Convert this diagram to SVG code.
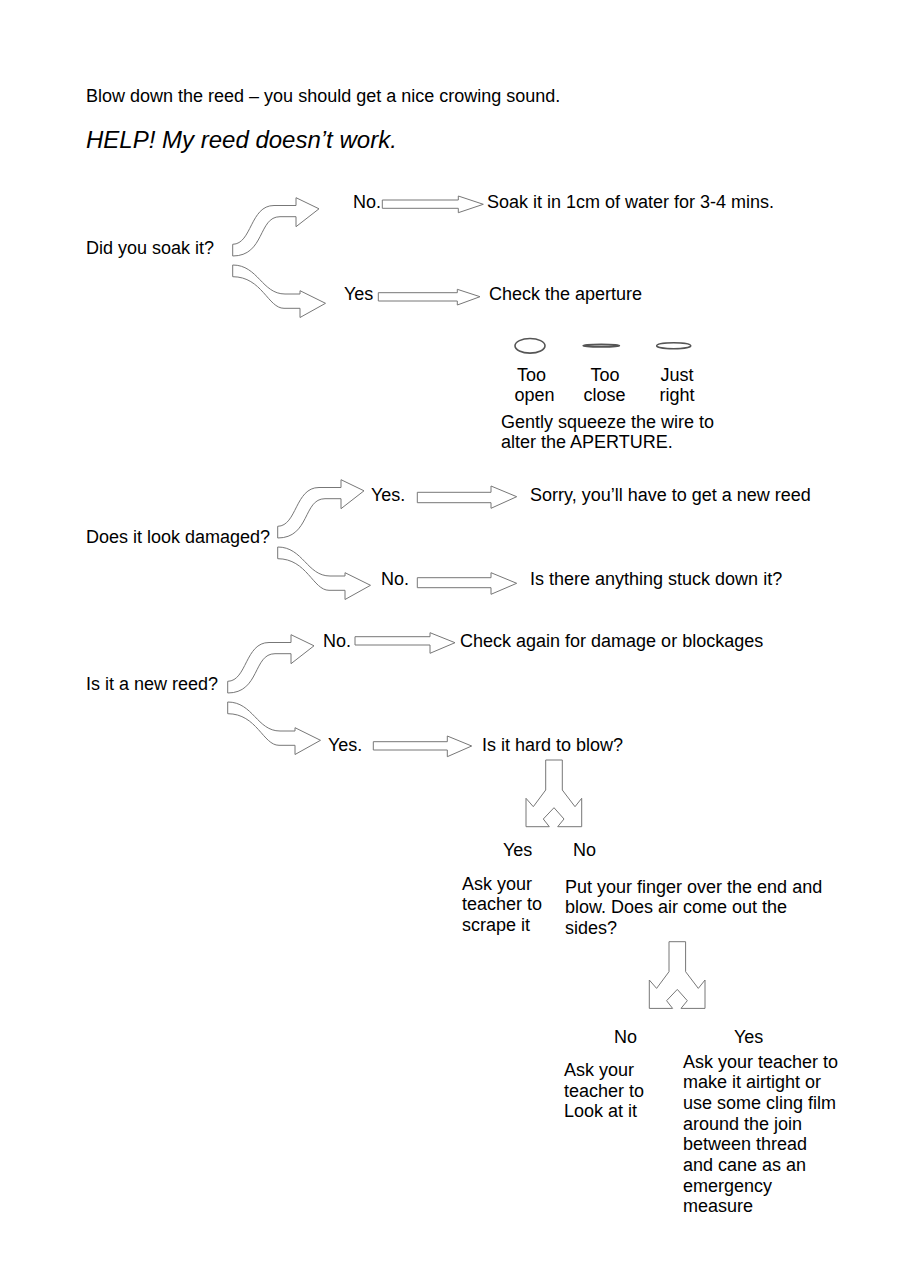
<svg xmlns="http://www.w3.org/2000/svg" width="900" height="1272" viewBox="0 0 900 1272">
<style>
text{font-family:"Liberation Sans",Arial,sans-serif;font-size:18px;fill:#000}
.title{font-size:24px;font-style:italic}
.arr{fill:#fff;stroke:#777;stroke-width:1;stroke-linejoin:miter}
.ap{fill:none;stroke:#555}
</style>
<defs>
<path id="cu" d="M232.7,244.3 C252,244 250,205.5 274,205.5 L296,205.5 L296,197.7 L319,208.8 L296,226.7 L296,216.7 L280,216.7 C258,216.7 265,256 232.7,256 Z"/>
<path id="cl" d="M232.7,265 C258,265 262,294 285,294 L300,294 L300,290.7 L325.5,303.3 L300,317.5 L300,308.3 L284,308.3 C268,308.3 262,276.7 232.7,276.7 Z"/>
<path id="split" d="M545.7,760 L545.7,790 L533.3,806.7 L526,798.3 L526,826.7 L549.3,826.7 L543.3,819 L554,807.7 L564,819 L557.7,826.7 L581.7,826.7 L581.7,798.3 L575,806.7 L562.3,790 L562.3,760 Z"/>
</defs>
<g id="intro">
<text x="86" y="102">Blow down the reed – you should get a nice crowing sound.</text>
<text class="title" x="86" y="148">HELP! My reed doesn’t work.</text>
</g>
<g id="connectors">
<use href="#cu" class="arr"/>
<use href="#cl" class="arr"/>
<use href="#cu" class="arr" transform="translate(45,282)"/>
<use href="#cl" class="arr" transform="translate(45,282)"/>
<use href="#cu" class="arr" transform="translate(-5,437)"/>
<use href="#cl" class="arr" transform="translate(-5,437)"/>
<polygon class="arr" points="382.3,200 458.3,200 458.3,196 483.3,204.3 458.3,212.7 458.3,208.3 382.3,208.3"/>
<polygon class="arr" points="378.3,292.7 457.3,292.7 457.3,289.3 480,296.7 457.3,305 457.3,301 378.3,301"/>
<polygon class="arr" points="417.3,492.3 491,492.3 491,486 516.7,496.7 491,508.3 491,502.7 417.3,502.7"/>
<polygon class="arr" points="417.3,577.7 491,577.7 491,572.7 516.7,583.3 491,594.3 491,587.7 417.3,587.7"/>
<polygon class="arr" points="355,636.7 430,636.7 430,632.7 455,642.7 430,653.3 430,645 355,645"/>
<polygon class="arr" points="373.3,741.7 447.3,741.7 447.3,736 471.7,746 447.3,756.7 447.3,750 373.3,750"/>
<use href="#split" class="arr"/>
<use href="#split" class="arr" transform="translate(123.3,181.7)"/>
</g>
<g id="q-soak">
<text x="86" y="254">Did you soak it?</text>
</g>
<g id="soak-no">
<text x="353" y="208">No.</text>
<text x="487" y="208">Soak it in 1cm of water for 3-4 mins.</text>
</g>
<g id="soak-yes">
<text x="344" y="300">Yes</text>
<text x="489" y="300">Check the aperture</text>
</g>
<g id="aperture">
<ellipse class="ap" cx="530" cy="345.8" rx="15" ry="7.3" stroke-width="1.6"/>
<ellipse class="ap" cx="601.3" cy="345.7" rx="18" ry="1.2" stroke-width="1.8"/>
<ellipse class="ap" cx="673.7" cy="345.7" rx="17" ry="3" stroke-width="1.6"/>
<text x="517" y="381">Too</text>
<text x="514.5" y="401">open</text>
<text x="590.5" y="381">Too</text>
<text x="583.5" y="401">close</text>
<text x="660.5" y="381">Just</text>
<text x="659.5" y="401">right</text>
<text x="501" y="428">Gently squeeze the wire to</text>
<text x="501" y="448">alter the APERTURE.</text>
</g>
<g id="q-damaged">
<text x="86" y="543">Does it look damaged?</text>
</g>
<g id="damaged-yes">
<text x="371" y="501">Yes.</text>
<text x="530" y="501">Sorry, you’ll have to get a new reed</text>
</g>
<g id="damaged-no">
<text x="381" y="585">No.</text>
<text x="530" y="585">Is there anything stuck down it?</text>
</g>
<g id="q-new">
<text x="86" y="690">Is it a new reed?</text>
</g>
<g id="new-no">
<text x="323" y="647">No.</text>
<text x="460" y="647">Check again for damage or blockages</text>
</g>
<g id="new-yes">
<text x="328" y="751">Yes.</text>
<text x="482" y="751">Is it hard to blow?</text>
</g>
<g id="hard-yes">
<text x="503" y="856">Yes</text>
<text x="462" y="889.5">Ask your</text>
<text x="462" y="910.2">teacher to</text>
<text x="462" y="930.9">scrape it</text>
</g>
<g id="hard-no">
<text x="573" y="856">No</text>
<text x="565" y="892.5">Put your finger over the end and</text>
<text x="565" y="913.2">blow. Does air come out the</text>
<text x="565" y="933.9">sides?</text>
</g>
<g id="air-no">
<text x="614" y="1043">No</text>
<text x="564" y="1076">Ask your</text>
<text x="564" y="1096.7">teacher to</text>
<text x="564" y="1117.4">Look at it</text>
</g>
<g id="air-yes">
<text x="734" y="1043">Yes</text>
<text x="683" y="1067.5">Ask your teacher to</text>
<text x="683" y="1088.2">make it airtight or</text>
<text x="683" y="1108.9">use some cling film</text>
<text x="683" y="1129.6">around the join</text>
<text x="683" y="1150.3">between thread</text>
<text x="683" y="1171">and cane as an</text>
<text x="683" y="1191.7">emergency</text>
<text x="683" y="1212.4">measure</text>
</g>
</svg>
